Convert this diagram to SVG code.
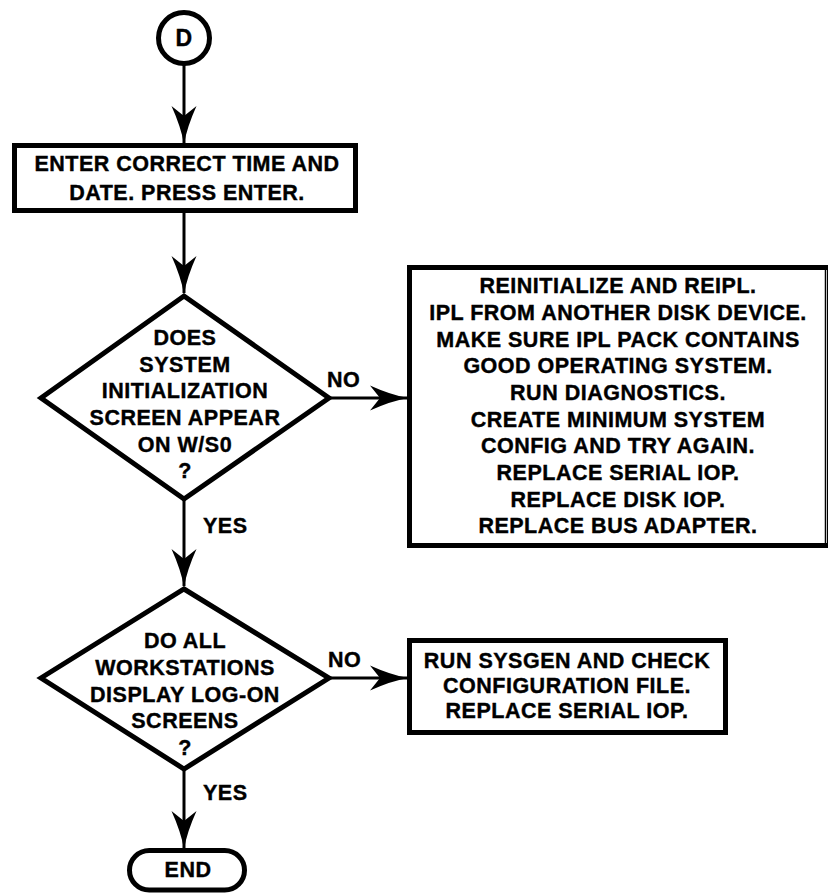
<svg xmlns="http://www.w3.org/2000/svg" width="828" height="894" viewBox="0 0 828 894">
<style>
  .shape { fill: #fff; stroke: #000; stroke-width: 5; stroke-linejoin: miter; }
  .conn { fill: none; stroke: #000; stroke-width: 3; }
  text { font-family: "Liberation Sans", Arial, sans-serif; font-weight: bold; font-size: 21.5px; letter-spacing: 0.5px; fill: #000; stroke: #000; stroke-width: 0.4; text-anchor: middle; }
  .lbl { text-anchor: start; }
</style>
<defs>
  <marker id="arr" markerUnits="userSpaceOnUse" viewBox="0 0 38 26" markerWidth="38" markerHeight="26" refX="37" refY="13" orient="auto">
    <path d="M38,13 Q21,10 0,0.5 L10,13 L0,25.5 Q21,16 38,13 Z" fill="#000"/>
  </marker>
</defs>
<rect x="0" y="0" width="828" height="894" fill="#fff"/>

<g id="connectors">
  <line class="conn" x1="184" y1="64" x2="184" y2="143" marker-end="url(#arr)"/>
  <line class="conn" x1="184" y1="213" x2="184" y2="293" marker-end="url(#arr)"/>
  <line class="conn" x1="330" y1="398" x2="407" y2="398" marker-end="url(#arr)"/>
  <line class="conn" x1="184" y1="500" x2="184" y2="586" marker-end="url(#arr)"/>
  <line class="conn" x1="330" y1="678" x2="407" y2="678" marker-end="url(#arr)"/>
  <line class="conn" x1="184" y1="770" x2="184" y2="848" marker-end="url(#arr)"/>
  <text class="lbl" x="327" y="387">NO</text>
  <text class="lbl" x="203" y="533">YES</text>
  <text class="lbl" x="328" y="667">NO</text>
  <text class="lbl" x="203" y="800">YES</text>
</g>

<g id="start">
  <circle class="shape" cx="184" cy="38" r="25.5"/>
  <text x="184" y="46" style="font-size:23px">D</text>
</g>

<g id="enter-time">
  <rect class="shape" x="14.5" y="145.5" width="341" height="65"/>
  <text x="187" y="170.5">ENTER CORRECT TIME AND</text>
  <text x="187" y="200">DATE. PRESS ENTER.</text>
</g>

<g id="decision-init">
  <polygon class="shape" points="184,296 329,398 184,499 41,398"/>
  <text x="185" y="345">DOES</text>
  <text x="185" y="372">SYSTEM</text>
  <text x="185" y="398">INITIALIZATION</text>
  <text x="185" y="425">SCREEN APPEAR</text>
  <text x="185" y="452">ON W/S0</text>
  <text x="185" y="478">?</text>
</g>

<g id="remedy-init">
  <rect class="shape" x="409.5" y="267.5" width="420" height="278"/>
  <line x1="825.5" y1="267.5" x2="825.5" y2="545.5" stroke="#000" stroke-width="1.5"/>
  <text x="618" y="293">REINITIALIZE AND REIPL.</text>
  <text x="618" y="320">IPL FROM ANOTHER DISK DEVICE.</text>
  <text x="618" y="347">MAKE SURE IPL PACK CONTAINS</text>
  <text x="618" y="373">GOOD OPERATING SYSTEM.</text>
  <text x="618" y="400">RUN DIAGNOSTICS.</text>
  <text x="618" y="427">CREATE MINIMUM SYSTEM</text>
  <text x="618" y="453">CONFIG AND TRY AGAIN.</text>
  <text x="618" y="480">REPLACE SERIAL IOP.</text>
  <text x="618" y="507">REPLACE DISK IOP.</text>
  <text x="618" y="533">REPLACE BUS ADAPTER.</text>
</g>

<g id="decision-logon">
  <polygon class="shape" points="184,589 329,678 184,769 41,678"/>
  <text x="185" y="648">DO ALL</text>
  <text x="185" y="675">WORKSTATIONS</text>
  <text x="185" y="702">DISPLAY LOG-ON</text>
  <text x="185" y="728">SCREENS</text>
  <text x="185" y="755">?</text>
</g>

<g id="remedy-logon">
  <rect class="shape" x="409.5" y="640.5" width="316" height="92"/>
  <text x="567" y="668">RUN SYSGEN AND CHECK</text>
  <text x="567" y="693">CONFIGURATION FILE.</text>
  <text x="567" y="718">REPLACE SERIAL IOP.</text>
</g>

<g id="end">
  <rect class="shape" x="129.5" y="850.5" width="115" height="39.5" rx="19.75" ry="19.75"/>
  <text x="188" y="877">END</text>
</g>
</svg>
